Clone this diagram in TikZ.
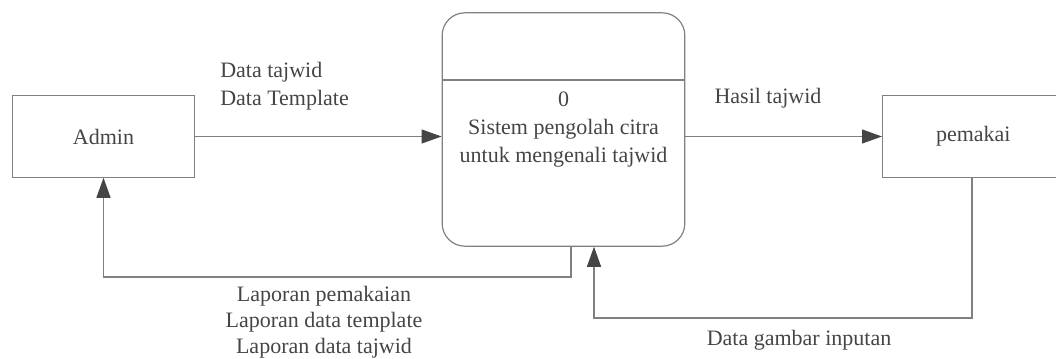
\documentclass[tikz,border=0pt]{standalone}
\usepackage{fontspec}
\setmainfont{Liberation Serif}
\usetikzlibrary{arrows.meta,positioning}
\definecolor{garis}{HTML}{808080}
\definecolor{teks}{HTML}{454545}
\tikzstyle{entitas} = [rectangle, draw=garis, line width=0.9pt, minimum width=136pt, minimum height=61pt, text centered, text=teks]
\tikzstyle{proses} = [rectangle, rounded corners=17pt, draw=garis, line width=0.9pt, minimum width=182pt, minimum height=175pt, text centered, align=center, text=teks]
\tikzstyle{label} = [text=teks, inner sep=0pt]
\tikzstyle{arrow} = [draw=garis, line width=0.9pt, -{Triangle[length=15pt,width=10.5pt,fill=teks,color=teks]}]

\begin{document}
\begin{tikzpicture}[x=0.75pt, y=-0.75pt, font=\fontsize{16.5pt}{21pt}\selectfont]
        \useasboundingbox (0,0) rectangle (1056,359);
        \node (admin) [entitas] at (103.5,136.5) {Admin};
        \node (sistem) [proses] at (563.5,129.5) {0\\Sistem pengolah citra\\untuk mengenali tajwid};
        \node (pemakai) [entitas, minimum width=142pt, anchor=west] at (882,136.5) {\hspace*{-6pt}pemakai};
        \draw [draw=garis, line width=0.9pt] (sistem.west |- 0,80) -- (sistem.east |- 0,80);
        % aliran data
        \coordinate (b1) at (571,277);
        \coordinate (b2) at (103.5,277);
        \coordinate (c1) at (972,318);
        \coordinate (c2) at (594,318);
        \draw [arrow] (admin.east) -- (admin.east -| sistem.west);
        \draw [arrow] (sistem.east |- pemakai.west) -- (pemakai.west);
        \draw [arrow] (sistem.south -| b1) -- (b1) -- (b2) -- (admin.south);
        \draw [arrow] (pemakai.south -| c1) -- (c1) -- (c2) -- (sistem.south -| c2);
        % keterangan
        \node (lbl1) [label, align=left, anchor=west] at (220,86) {Data tajwid\\Data Template};
        \node (lbl2) [label] at (768,98) {Hasil tajwid};
        \node (lbl3) [label, align=center, font=\fontsize{16.5pt}{19.5pt}\selectfont] at (324,322) {Laporan pemakaian\\Laporan data template\\Laporan data tajwid};
        \node (lbl4) [label] at (799,340) {Data gambar inputan};
    \end{tikzpicture}
\end{document}
